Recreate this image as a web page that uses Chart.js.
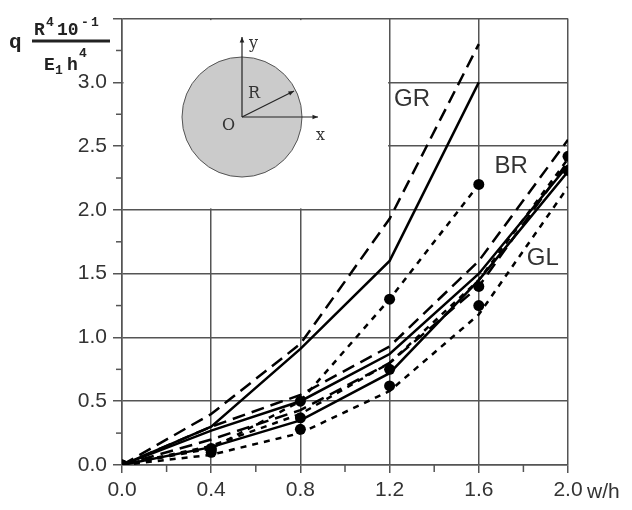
<!DOCTYPE html>
<html>
<head>
<meta charset="utf-8">
<script src="https://cdn.jsdelivr.net/npm/chart.js@4"></script>
<style>
  body { margin: 0; background: #fff; }
  #box { width: 632px; height: 510px; }
</style>
</head>
<body>
<div id="box"><canvas id="grafico" width="632" height="510"></canvas></div>
<script>
// Valores (eixo x = w/h)
const wh = [0, 0.4, 0.8, 1.2, 1.6, 2.0];
const yTicks = [0, 0.5, 1.0, 1.5, 2.0, 2.5, 3.0];

// GR (vai só até 1.6)
const grSolid  = [0, 0.30, 0.91, 1.60, 3.00];
const grDashed = [0, 0.40, 0.95, 1.93, 3.30];
const grDotted = [0, 0.13, 0.50, 1.30, 2.20];

// BR
const brSolid  = [0, 0.27, 0.50, 0.87, 1.50, 2.35];
const brDashed = [0, 0.30, 0.55, 0.93, 1.60, 2.55];
const brDotted = [0, 0.15, 0.40, 0.80, 1.45, 2.40];

// GL
const glSolid  = [0, 0.14, 0.35, 0.72, 1.45, 2.30];
const glDashed = [0, 0.20, 0.43, 0.80, 1.40, 2.38];
const glDotted = [0, 0.08, 0.25, 0.58, 1.18, 2.18];

// pontos (círculos pretos)
const grPontos = [0, 0.13, 0.50, 1.30, 2.20];
const brPontos = [0, 0.12, 0.37, 0.75, 1.40, 2.42];
const glPontos = [0, 0.10, 0.28, 0.62, 1.25, 2.31];

const labels = [
    { text: 'GR', x: 1.22, y: 2.87 },
    { text: 'BR', x: 1.67, y: 2.34 },
    { text: 'GL', x: 1.815, y: 1.62 }
];

function pares(ys) {
    return ys.map((v, i) => ({ x: wh[i], y: v }));
}

function linha(ys, dash) {
    return {
        data: pares(ys),
        borderColor: '#000',
        borderWidth: 2.5,
        borderDash: dash,
        pointRadius: 0,
        fill: false,
        tension: 0
    };
}

function pontos(ys) {
    return {
        data: pares(ys),
        showLine: false,
        pointRadius: 5.5,
        pointBackgroundColor: '#000',
        pointBorderColor: '#000',
        pointBorderWidth: 0
    };
}

const longo = [13, 7];
const curto = [6, 6];

const arial = 'Arial, "Liberation Sans", sans-serif';
const mono = '"Liberation Mono", "Courier New", monospace';

// Desenha a caixa branca com o círculo, os rótulos e os títulos
const extras = {
    id: 'extras',
    beforeDatasetsDraw(chart) {
        const { ctx, scales: { x, y } } = chart;
        ctx.save();
        // esconde a grade atrás do desenho do círculo
        ctx.fillStyle = '#fff';
        const x0 = x.getPixelForValue(0) + 1.5;
        const x1 = x.getPixelForValue(1.2) - 1.5;
        const y0 = y.getPixelForValue(3.5) + 1.5;
        const y1 = y.getPixelForValue(2.0) - 1.5;
        ctx.fillRect(x0, y0, x1 - x0, y1 - y0);

        // círculo
        const cx = 242, cy = 117, r = 60;
        ctx.beginPath();
        ctx.arc(cx, cy, r, 0, Math.PI * 2);
        ctx.fillStyle = '#cbcbcb';
        ctx.fill();
        ctx.strokeStyle = '#555';
        ctx.lineWidth = 1;
        ctx.stroke();

        // eixos do círculo com setas
        ctx.strokeStyle = '#222';
        ctx.fillStyle = '#222';
        ctx.lineWidth = 1.2;
        seta(ctx, cx, cy, cx, 37);
        seta(ctx, cx, cy, 318, cy);
        seta(ctx, cx, cy, 294, 91);

        ctx.font = '16px "DejaVu Serif", "Liberation Serif", serif';
        ctx.fillStyle = '#333';
        ctx.textAlign = 'left';
        ctx.textBaseline = 'middle';
        ctx.fillText('y', 249, 44);
        ctx.fillText('x', 316, 136);
        ctx.fillText('R', 248, 94);
        ctx.fillText('O', 222, 126);
        ctx.restore();
    },
    afterDraw(chart) {
        const { ctx, scales: { x, y } } = chart;
        ctx.save();
        // marcas menores
        ctx.strokeStyle = '#555';
        ctx.lineWidth = 1.5;
        for (let v = 0.25; v < 3.5; v += 0.5) {
            const py = y.getPixelForValue(v);
            ctx.beginPath();
            ctx.moveTo(x.left - 6, py);
            ctx.lineTo(x.left, py);
            ctx.stroke();
        }
        for (let v = 0.2; v < 2.0; v += 0.4) {
            const px = x.getPixelForValue(v);
            ctx.beginPath();
            ctx.moveTo(px, y.bottom);
            ctx.lineTo(px, y.bottom + 7);
            ctx.stroke();
        }

        // rótulos das curvas
        ctx.font = '24px ' + arial;
        ctx.fillStyle = '#333';
        ctx.textAlign = 'left';
        ctx.textBaseline = 'middle';
        labels.forEach(l => {
            ctx.fillText(l.text, x.getPixelForValue(l.x), y.getPixelForValue(l.y));
        });

        // título do eixo x
        ctx.font = '21px ' + arial;
        ctx.fillText('w/h', 587, 492);

        // título do eixo y (fração)
        ctx.fillStyle = '#222';
        ctx.textBaseline = 'alphabetic';
        ctx.font = 'bold 21px ' + mono;
        ctx.fillText('q', 9, 48);
        ctx.font = 'bold 18px ' + mono;
        ctx.fillText('R', 34, 35);
        ctx.fillText('10', 57, 35);
        ctx.fillText('E', 44, 70);
        ctx.fillText('h', 67, 70);
        ctx.font = 'bold 13px ' + mono;
        ctx.fillText('4', 46, 26);
        ctx.fillText('-', 81, 26);
        ctx.fillText('1', 91, 26);
        ctx.fillText('1', 55, 74);
        ctx.fillText('4', 79, 57);
        ctx.strokeStyle = '#222';
        ctx.lineWidth = 3;
        ctx.beginPath();
        ctx.moveTo(32, 41);
        ctx.lineTo(110, 41);
        ctx.stroke();
        ctx.restore();
    }
};

function seta(ctx, xa, ya, xb, yb) {
    ctx.beginPath();
    ctx.moveTo(xa, ya);
    ctx.lineTo(xb, yb);
    ctx.stroke();
    const ang = Math.atan2(yb - ya, xb - xa);
    ctx.beginPath();
    ctx.moveTo(xb, yb);
    ctx.lineTo(xb - 6 * Math.cos(ang - 0.4), yb - 6 * Math.sin(ang - 0.4));
    ctx.lineTo(xb - 6 * Math.cos(ang + 0.4), yb - 6 * Math.sin(ang + 0.4));
    ctx.closePath();
    ctx.fill();
}

new Chart(document.getElementById('grafico'), {
    type: 'line',
    data: {
        datasets: [
            linha(grSolid, []),
            linha(grDashed, longo),
            linha(grDotted, curto),
            linha(brSolid, []),
            linha(brDashed, longo),
            linha(brDotted, curto),
            linha(glSolid, []),
            linha(glDashed, longo),
            linha(glDotted, curto),
            pontos(grPontos),
            pontos(brPontos),
            pontos(glPontos)
        ]
    },
    options: {
        responsive: false,
        animation: false,
        layout: { padding: { left: 0, right: 64, top: 18, bottom: 0 } },
        plugins: { legend: { display: false }, tooltip: { enabled: false } },
        scales: {
            x: {
                type: 'linear',
                min: 0,
                max: 2.0,
                afterBuildTicks: s => { s.ticks = wh.map(v => ({ value: v })); },
                afterFit: s => { s.height = 45; },
                ticks: {
                    color: '#333',
                    font: { family: arial, size: 21 },
                    padding: 5,
                    maxRotation: 0,
                    callback: v => v.toFixed(1)
                },
                grid: { color: '#555', lineWidth: 1.5, tickLength: 8, tickColor: '#555' },
                border: { color: '#555', width: 1.5 }
            },
            y: {
                min: 0,
                max: 3.5,
                afterBuildTicks: s => { s.ticks = yTicks.concat([3.5]).map(v => ({ value: v })); },
                afterFit: s => { s.width = 122; },
                ticks: {
                    color: '#333',
                    font: { family: arial, size: 21 },
                    padding: 6,
                    callback: v => (v === 3.5 ? '' : v.toFixed(1))
                },
                grid: { color: '#555', lineWidth: 1.5, tickLength: 9, tickColor: '#555' },
                border: { color: '#555', width: 1.5 }
            }
        }
    },
    plugins: [extras]
});
</script>
</body>
</html>
